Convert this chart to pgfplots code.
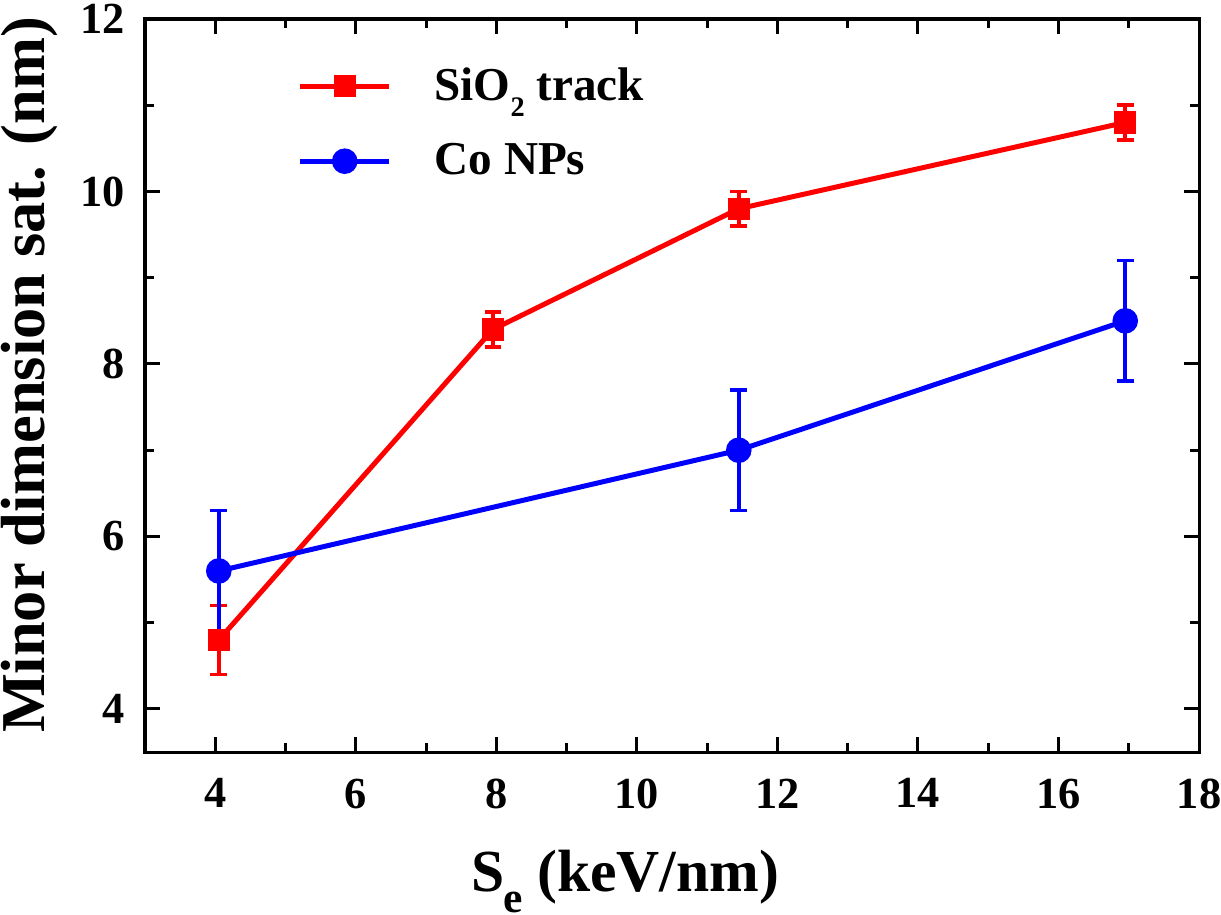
\documentclass[border=0pt]{standalone}
\usepackage{pgfplots}
\pgfplotsset{compat=1.18}
\usetikzlibrary{calc}
\usepackage{fontspec}
\setmainfont{Liberation Serif}
\definecolor{tred}{RGB}{255,0,0}
\definecolor{tblue}{RGB}{0,0,255}
\begin{document}
\begin{tikzpicture}
\begin{axis}[
    name=main,
    scale only axis,
    width=380pt, height=264.3pt,
    xmin=3, xmax=18, ymin=3.5, ymax=12,
    xtick={4,6,...,18}, ytick={4,6,...,12},
    minor x tick num=1, minor y tick num=1,
    tick align=inside,
    major tick length=5.4pt, minor tick length=3.2pt,
    axis line style={line width=1.1pt},
    every tick/.style={line width=1.1pt, black},
    tick label style={font=\fontsize{16}{19}\selectfont\bfseries, inner sep=0pt},
    /pgf/number format/assume math mode=true,
    xticklabel style={yshift=-9.4pt},
    yticklabel style={xshift=-7.2pt},
    xlabel={S\kern-0.5pt\smash{\raisebox{-7.6pt}{\scalebox{0.73}{e}}} (keV/nm)},
    ylabel={Minor dimension sat. (nm)},
    every axis x label/.append style={at={($(rel axis cs:0.5,0)+(-16.9pt,-50.4pt)$)}, anchor=base,
        font=\fontsize{21.5}{25}\selectfont\bfseries, inner sep=0pt},
    every axis y label/.append style={at={($(rel axis cs:0,0.5)+(-41.8pt,3.8pt)$)}, anchor=center,
        font=\fontsize{22.5}{26}\selectfont\bfseries, inner sep=0pt},
    legend style={at={($(rel axis cs:0.13,0.955)+(2.5pt,-1.5pt)$)}, anchor=north west, draw=none, fill=none,
        font=\fontsize{17}{20}\selectfont\bfseries, row sep=10pt},
    legend cell align=left,
    legend image code/.code={
        \draw[mark repeat=2, mark phase=2, #1] plot coordinates {(0pt,0pt) (16pt,0pt) (32pt,0pt)};
        \path (45.5pt,0pt);
    },
]
\addplot[color=tred, line width=1.8pt, mark=square*, mark size=3.1pt,
    error bars/.cd, y dir=both, y explicit,
    error bar style={line width=1.3pt},
    error mark options={rotate=90, mark size=3pt, line width=1.3pt}]
coordinates {
    (4.05,4.8) +- (0,0.4)
    (7.95,8.4) +- (0,0.2)
    (11.45,9.8) +- (0,0.2)
    (16.95,10.8) +- (0,0.2)
};
\addlegendentry{SiO\raisebox{-5.8pt}{\scalebox{0.6}{2}} track}
\addplot[color=tblue, line width=1.8pt, mark=*, mark size=3.7pt,
    error bars/.cd, y dir=both, y explicit,
    error bar style={line width=1.3pt},
    error mark options={rotate=90, mark size=3pt, line width=1.3pt}]
coordinates {
    (4.05,5.6) +- (0,0.7)
    (11.45,7.0) +- (0,0.7)
    (16.95,8.5) +- (0,0.7)
};
\addlegendentry{Co NPs}
\end{axis}
\pgfresetboundingbox
\useasboundingbox ([xshift=-52.28pt,yshift=-58.4pt]main.south west)
    rectangle ([xshift=7.93pt,yshift=6.85pt]main.north east);
\end{tikzpicture}
\end{document}
